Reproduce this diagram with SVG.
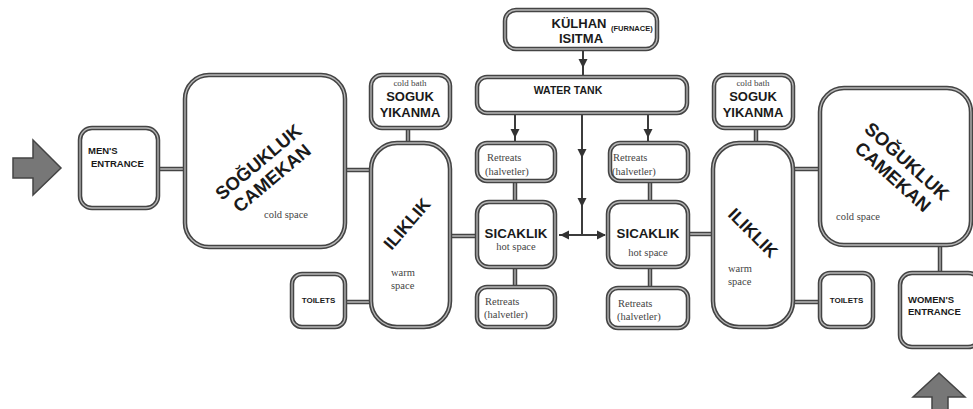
<svg xmlns="http://www.w3.org/2000/svg" width="973" height="409" viewBox="0 0 973 409">
<style>
.bo{fill:#fff;stroke:#444;stroke-width:4.5}
.bi{fill:none;stroke:#b8b8b8;stroke-width:1.3}
.co{stroke:#444;stroke-width:4.5;fill:none}
.ci{stroke:#b8b8b8;stroke-width:1.3;fill:none}
.ar{stroke:#3c3c3c;stroke-width:2;fill:none}
.ah{fill:#333}
.bs{font-family:"Liberation Sans",Arial,sans-serif;font-weight:bold;fill:#1a1a1a}
.sf{font-family:"Liberation Serif","Times New Roman",serif;fill:#444}
.big{font-size:18.5px}
.mid{font-size:13px}
.ctr{text-anchor:middle}
.blk{fill:#777;stroke:#444;stroke-width:1.5}
</style>
<defs>
<path id="ah" class="ah" d="M-4.5,-9 L4.5,-9 L0,0 Z"/>
</defs>

<!-- connectors -->
<g id="connectors">
  <g>
    <path class="co" d="M158,169H186 M345,170H372 M408,128V143 M345,302H371 M450,236H477 M515,181V202 M650,181V202 M515,267V287 M650,267V288 M688,234H713 M756,128V143 M793,169H820 M793,302H820 M940,245V273"/>
    <path class="ci" d="M158,169H186 M345,170H372 M408,128V143 M345,302H371 M450,236H477 M515,181V202 M650,181V202 M515,267V287 M650,267V288 M688,234H713 M756,128V143 M793,169H820 M793,302H820 M940,245V273"/>
  </g>
  <path class="ar" d="M583,49V77 M515,113V143 M648,113V143 M582,113V235 M559,235H605"/>
  <use href="#ah" transform="translate(583,68)"/>
  <use href="#ah" transform="translate(515,138)"/>
  <use href="#ah" transform="translate(648,138)"/>
  <use href="#ah" transform="translate(582,158)"/>
  <use href="#ah" transform="translate(582,207)"/>
  <use href="#ah" transform="translate(560,235) rotate(90)"/>
  <use href="#ah" transform="translate(606,235) rotate(-90)"/>
</g>

<!-- entrance arrows -->
<g id="men-arrow">
  <path class="blk" d="M13,158H33V140L61,168L33,195V178H13Z"/>
</g>
<g id="women-arrow">
  <path class="blk" d="M932,409V397H913L939,373L965,397H948V409"/>
</g>

<g id="mens-entrance">
  <rect class="bo" x="80" y="128" width="78" height="80" rx="12"/>
  <rect class="bi" x="80" y="128" width="78" height="80" rx="12"/>
  <text class="bs" font-size="9.5" x="88" y="154">MEN'S</text>
  <text class="bs" font-size="9.5" x="91" y="167">ENTRANCE</text>
</g>

<g id="camekan-left">
  <rect class="bo" x="185" y="75" width="160" height="172" rx="24"/>
  <rect class="bi" x="185" y="75" width="160" height="172" rx="24"/>
  <g transform="translate(265,170) rotate(-40)">
    <text class="bs big ctr" x="0" y="-4">SOĞUKLUK</text>
    <text class="bs big ctr" x="0" y="17">CAMEKAN</text>
  </g>
  <text class="sf ctr" font-size="10.5" x="286" y="218">cold space</text>
</g>

<g id="yikanma-left">
  <rect class="bo" x="371" y="75" width="79" height="53" rx="11"/>
  <rect class="bi" x="371" y="75" width="79" height="53" rx="11"/>
  <text class="sf ctr" font-size="9" x="410" y="86">cold bath</text>
  <text class="bs mid ctr" x="410" y="101">SOGUK</text>
  <text class="bs mid ctr" x="410" y="117">YIKANMA</text>
</g>

<g id="iliklik-left">
  <rect class="bo" x="371" y="143" width="79" height="184" rx="26"/>
  <rect class="bi" x="371" y="143" width="79" height="184" rx="26"/>
  <text class="bs ctr" font-size="17.5" transform="translate(407,224) rotate(-49)" y="6">ILIKLIK</text>
  <text class="sf" font-size="10.5" x="391" y="276">warm</text>
  <text class="sf" font-size="10.5" x="391" y="289">space</text>
</g>

<g id="toilets-left">
  <rect class="bo" x="292" y="274" width="53" height="53" rx="10"/>
  <rect class="bi" x="292" y="274" width="53" height="53" rx="10"/>
  <text class="bs ctr" font-size="8" x="318.5" y="303">TOILETS</text>
</g>

<g id="kulhan">
  <rect class="bo" x="505" y="10" width="152" height="39" rx="11"/>
  <rect class="bi" x="505" y="10" width="152" height="39" rx="11"/>
  <text class="bs mid ctr" x="579" y="28">KÜLHAN</text>
  <text class="bs mid ctr" x="581" y="43">ISITMA</text>
  <text class="bs" font-size="7.5" x="611" y="31">(FURNACE)</text>
</g>

<g id="water-tank">
  <rect class="bo" x="477" y="77" width="210" height="36" rx="10"/>
  <rect class="bi" x="477" y="77" width="210" height="36" rx="10"/>
  <text class="bs ctr" font-size="10.5" x="568" y="94">WATER TANK</text>
</g>

<g id="retreats-tl">
  <rect class="bo" x="477" y="143" width="78" height="38" rx="10"/>
  <rect class="bi" x="477" y="143" width="78" height="38" rx="10"/>
  <text class="sf" font-size="10.5" x="487" y="161">Retreats</text>
  <text class="sf" font-size="10.5" x="485" y="175">(halvetler)</text>
</g>

<g id="retreats-tr">
  <rect class="bo" x="610" y="143" width="78" height="38" rx="10"/>
  <rect class="bi" x="610" y="143" width="78" height="38" rx="10"/>
  <text class="sf" font-size="10.5" x="613" y="161">Retreats</text>
  <text class="sf" font-size="10.5" x="612" y="175">(halvetler)</text>
</g>

<g id="sicaklik-left">
  <rect class="bo" x="477" y="202" width="78" height="65" rx="12"/>
  <rect class="bi" x="477" y="202" width="78" height="65" rx="12"/>
  <text class="bs ctr" font-size="13.3" x="516" y="238">SICAKLIK</text>
  <text class="sf ctr" font-size="10.5" x="516" y="250">hot space</text>
</g>

<g id="sicaklik-right">
  <rect class="bo" x="608" y="202" width="80" height="65" rx="12"/>
  <rect class="bi" x="608" y="202" width="80" height="65" rx="12"/>
  <text class="bs ctr" font-size="13.3" x="648" y="238">SICAKLIK</text>
  <text class="sf ctr" font-size="10.5" x="648" y="256">hot space</text>
</g>

<g id="retreats-bl">
  <rect class="bo" x="477" y="287" width="78" height="40" rx="10"/>
  <rect class="bi" x="477" y="287" width="78" height="40" rx="10"/>
  <text class="sf" font-size="10.5" x="485" y="305">Retreats</text>
  <text class="sf" font-size="10.5" x="484" y="318">(halvetler)</text>
</g>

<g id="retreats-br">
  <rect class="bo" x="608" y="288" width="80" height="40" rx="10"/>
  <rect class="bi" x="608" y="288" width="80" height="40" rx="10"/>
  <text class="sf" font-size="10.5" x="618" y="307">Retreats</text>
  <text class="sf" font-size="10.5" x="617" y="320">(halvetler)</text>
</g>

<g id="yikanma-right">
  <rect class="bo" x="714" y="75" width="79" height="53" rx="11"/>
  <rect class="bi" x="714" y="75" width="79" height="53" rx="11"/>
  <text class="sf ctr" font-size="9" x="753" y="86">cold bath</text>
  <text class="bs mid ctr" x="753" y="101">SOGUK</text>
  <text class="bs mid ctr" x="753" y="117">YIKANMA</text>
</g>

<g id="iliklik-right">
  <rect class="bo" x="713" y="143" width="80" height="184" rx="26"/>
  <rect class="bi" x="713" y="143" width="80" height="184" rx="26"/>
  <text class="bs ctr" font-size="17.5" transform="translate(753,233) rotate(45)" y="6">ILIKLIK</text>
  <text class="sf" font-size="10.5" x="728" y="272">warm</text>
  <text class="sf" font-size="10.5" x="728" y="285">space</text>
</g>

<g id="camekan-right">
  <rect class="bo" x="820" y="88" width="151" height="157" rx="24"/>
  <rect class="bi" x="820" y="88" width="151" height="157" rx="24"/>
  <g transform="translate(900,169) rotate(42)">
    <text class="bs big ctr" x="0" y="-4">SOĞUKLUK</text>
    <text class="bs big ctr" x="0" y="17">CAMEKAN</text>
  </g>
  <text class="sf" font-size="10.5" x="836" y="220">cold space</text>
</g>

<g id="toilets-right">
  <rect class="bo" x="820" y="273" width="53" height="54" rx="10"/>
  <rect class="bi" x="820" y="273" width="53" height="54" rx="10"/>
  <text class="bs ctr" font-size="8" x="846.5" y="303">TOILETS</text>
</g>

<g id="womens-entrance">
  <rect class="bo" x="900" y="273" width="80" height="74" rx="12"/>
  <rect class="bi" x="900" y="273" width="80" height="74" rx="12"/>
  <text class="bs" font-size="9.5" x="908" y="303">WOMEN'S</text>
  <text class="bs" font-size="9.5" x="908" y="315">ENTRANCE</text>
</g>
</svg>
